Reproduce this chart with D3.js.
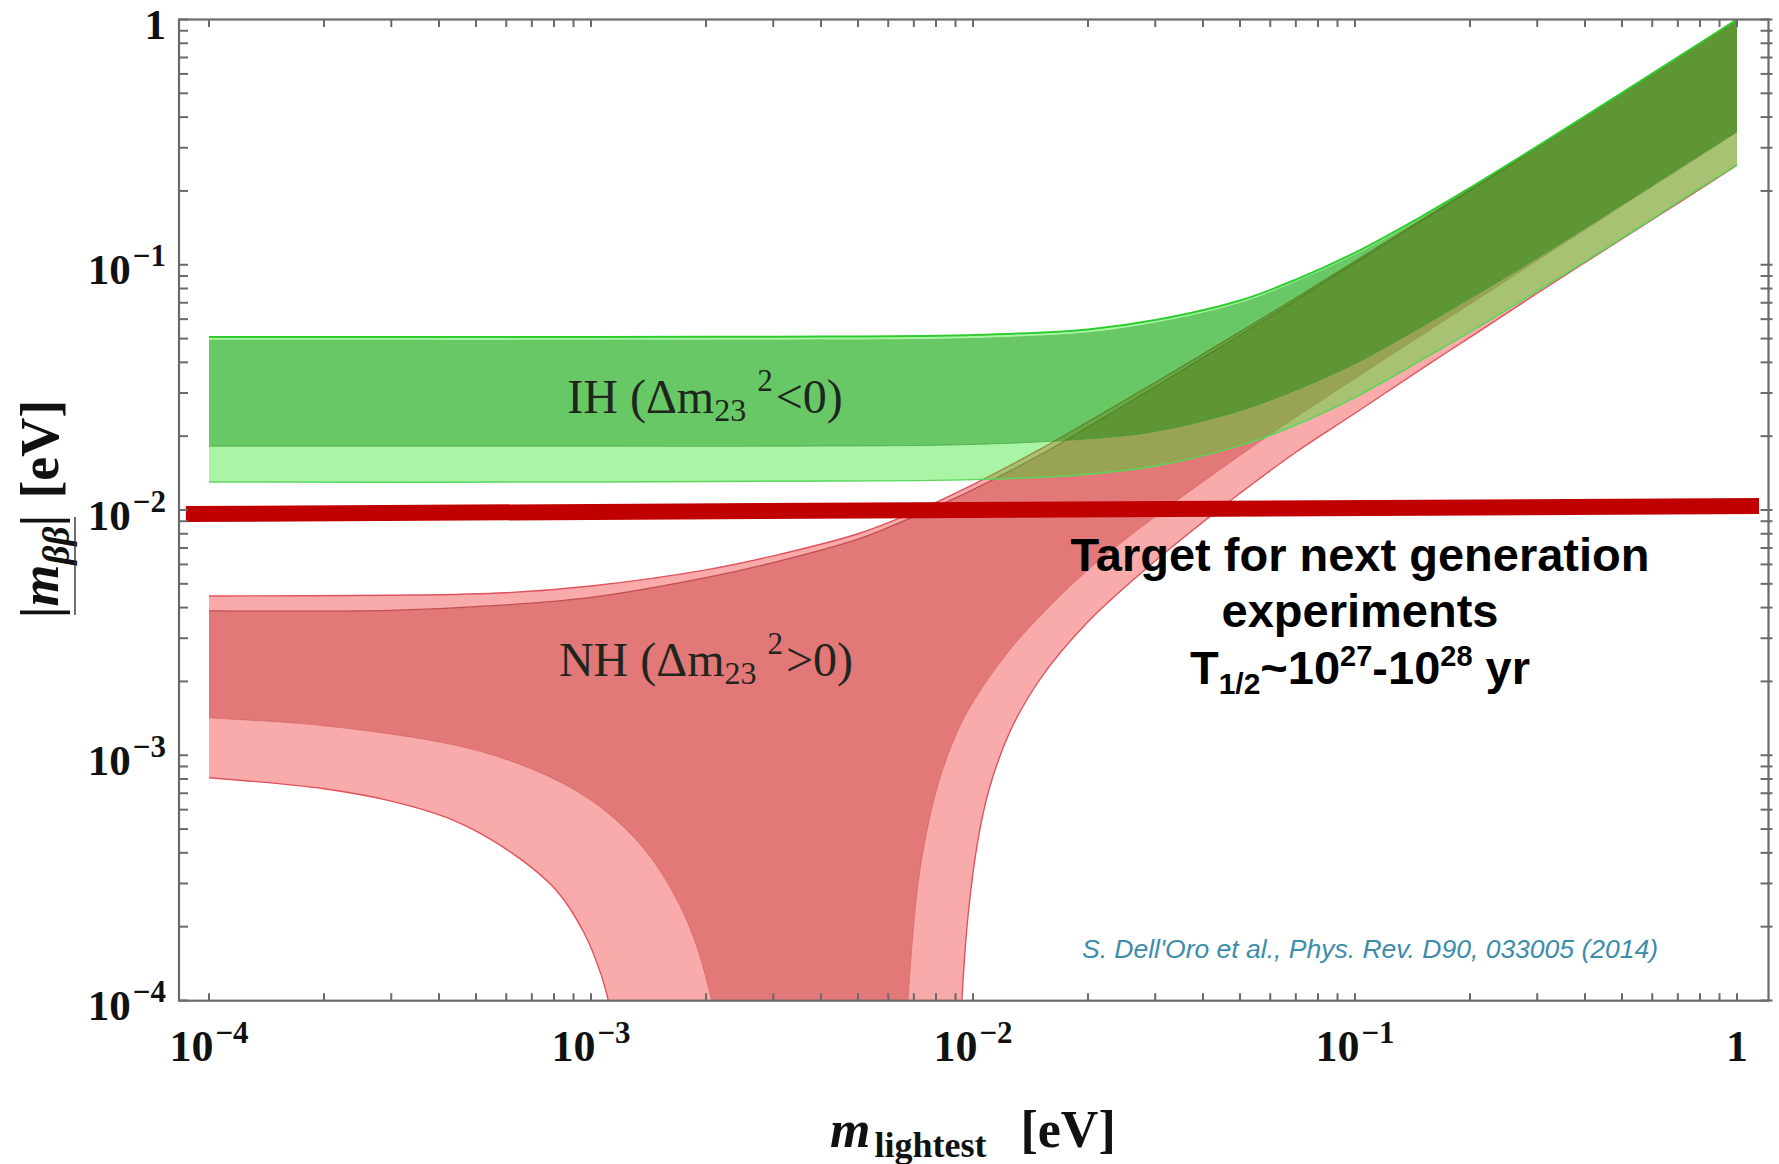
<!DOCTYPE html>
<html><head><meta charset="utf-8">
<script src="https://cdn.jsdelivr.net/npm/d3@7"></script>
<style>
html,body{margin:0;padding:0;background:#fff;}
svg{display:block;}
</style></head><body>
<svg id="chart" width="1779" height="1164"></svg>
<script>
// ================= DATA =================
// Inverted hierarchy (IH) band, x = m_lightest [eV]
const ihX     = [1e-4, 1e-3, 3e-3, 0.01, 0.02, 0.03, 0.05, 0.07, 0.1, 0.15, 0.2, 0.3, 0.5, 0.7, 1];
const ihMax3s = [0.0508,0.0508,0.0509,0.0517,0.0545,0.0595,0.0715,0.0870,0.1120,0.1580,0.2060,0.3040,0.5020,0.7010,1.000];
const ihMaxBF = [0.0494,0.0494,0.0495,0.0503,0.0531,0.0581,0.0700,0.0855,0.1100,0.1560,0.2040,0.3010,0.4980,0.6960,0.995];
const ihMinBF = [0.0182,0.0182,0.0182,0.0185,0.0195,0.0209,0.0254,0.0308,0.0395,0.0560,0.0728,0.1065,0.1755,0.2450,0.349];
const ihMin3s = [0.0130,0.0130,0.0131,0.0133,0.0140,0.0151,0.0183,0.0222,0.0288,0.0410,0.0532,0.0780,0.1285,0.1800,0.256];

// Normal hierarchy (NH) band
const nhX     = [1e-4, 3e-4, 6e-4, 1e-3, 2e-3, 3e-3, 5e-3, 7e-3, 0.01, 0.015, 0.02, 0.03, 0.05, 0.07, 0.1, 0.2, 0.5, 1];
const nhMax3s = [0.00446,0.00449,0.00460,0.00490,0.00570,0.00650,0.00800,0.00980,0.01270,0.01770,0.02290,0.03310,0.05320,0.07320,0.1032,0.2025,0.501,1.0];
const nhMaxBF = [0.00388,0.00390,0.00410,0.00440,0.00530,0.00610,0.00760,0.00940,0.01210,0.01680,0.02180,0.03180,0.05170,0.07160,0.1015,0.2005,0.499,0.995];
const nhMinBFLeftX  = [1e-4, 2e-4, 4.4e-4, 6.5e-4, 8.65e-4, 1.08e-3, 1.3e-3, 1.5e-3, 1.72e-3, 1.86e-3, 1.96e-3, 2.07e-3];
const nhMinBFLeftY  = [1.42e-3,1.32e-3,1.10e-3,9.2e-4,7.52e-4,6.0e-4,4.6e-4,3.47e-4,2.39e-4,1.79e-4,1.39e-4,1.0e-4];
const nhMinBFRightX = [6.76e-3,7.2e-3,8e-3,9e-3,0.01,0.0125,0.015,0.02,0.03,0.05,0.07,0.1,0.15,0.2,0.3,0.5,0.7,1];
const nhMinBFRightY = [1.0e-4,3.1e-4,7.1e-4,1.2e-3,1.65e-3,2.7e-3,3.7e-3,5.7e-3,9.4e-3,0.0167,0.0239,0.0344,0.0518,0.0692,0.104,0.174,0.243,0.348];
const nhMin3sLeftX  = [1e-4, 2e-4, 3e-4, 4.4e-4, 6.2e-4, 8.1e-4, 9.6e-4, 1.06e-3, 1.11e-3];
const nhMin3sLeftY  = [8.1e-4, 7.3e-4, 6.5e-4, 5.4e-4, 4.0e-4, 2.82e-4, 1.88e-4, 1.29e-4, 1.0e-4];
const nhMin3sRightX = [9.35e-3,9.7e-3,0.0103,0.011,0.0125,0.015,0.02,0.03,0.05,0.07,0.1,0.15,0.2,0.3,0.5,0.7,1];
const nhMin3sRightY = [1.0e-4,2.2e-4,4.5e-4,7.2e-4,1.25e-3,2.05e-3,3.5e-3,6.2e-3,0.0117,0.0172,0.0248,0.0378,0.0506,0.0765,0.1275,0.178,0.255];

// Target line for next generation experiments
const targetX = [8.7e-5, 1.142];
const targetY = [0.00963, 0.01038];

// Tick labels
const majorTicks = [1e-4, 1e-3, 1e-2, 1e-1, 1];
const majorBase  = ["10", "10", "10", "10", "1"];
const majorExp   = ["\u22124", "\u22123", "\u22122", "\u22121", ""];

// ================= DRAWING =================
const svg = d3.select('#chart');
const x = d3.scaleLog().domain([1e-4, 1]).range([209, 1737]);
const y = d3.scaleLog().domain([1e-4, 1]).range([1000.5, 19.5]);
const frame = {l: 179, r: 1768.5, t: 19.5, b: 1000.7};

svg.append('rect').attr('width', 1779).attr('height', 1164).attr('fill', '#fff');
svg.append('defs').append('clipPath').attr('id', 'plotClip').append('rect')
  .attr('x', frame.l).attr('y', frame.t).attr('width', frame.r - frame.l).attr('height', frame.b - frame.t);

const lineGen = d3.line().x(d => x(d[0])).y(d => y(d[1])).curve(d3.curveCatmullRom.alpha(0.5));
const pts = (xs, ys) => xs.map((v, i) => [v, ys[i]]);
function polygon(sections) {
  return sections.map((s, i) => { const p = lineGen(s); return i === 0 ? p : 'L' + p.slice(1); }).join('') + 'Z';
}

const plot = svg.append('g').attr('clip-path', 'url(#plotClip)');

// NH 3 sigma (light pink)
plot.append('path')
  .attr('d', polygon([pts(nhX, nhMax3s), pts(nhMin3sRightX, nhMin3sRightY).reverse(), pts(nhMin3sLeftX, nhMin3sLeftY).reverse()]))
  .attr('fill', '#f9aaaa');
// NH best fit (dark red)
plot.append('path')
  .attr('d', polygon([pts(nhX, nhMaxBF), pts(nhMinBFRightX, nhMinBFRightY).reverse(), pts(nhMinBFLeftX, nhMinBFLeftY).reverse()]))
  .attr('fill', '#e27878');
// NH edges
[[nhX, nhMax3s], [nhMin3sLeftX, nhMin3sLeftY], [nhMin3sRightX, nhMin3sRightY]].forEach(([a, b]) => {
  plot.append('path').attr('d', lineGen(pts(a, b))).attr('fill', 'none').attr('stroke', '#e0525c').attr('stroke-width', 1.4);
});
plot.append('path').attr('d', lineGen(pts(nhX, nhMaxBF))).attr('fill', 'none').attr('stroke', '#c24e52').attr('stroke-width', 1.3);
[[nhMinBFLeftX, nhMinBFLeftY], [nhMinBFRightX, nhMinBFRightY]].forEach(([a, b]) => {
  plot.append('path').attr('d', lineGen(pts(a, b))).attr('fill', 'none').attr('stroke', '#d46464').attr('stroke-width', 1).attr('opacity', 0.7);
});

// IH 3 sigma (light green, translucent)
plot.append('path')
  .attr('d', polygon([pts(ihX, ihMax3s), pts(ihX, ihMin3s).reverse()]))
  .attr('fill', 'rgb(42,230,30)').attr('fill-opacity', 0.4);
// IH best fit (dark green, translucent)
plot.append('path')
  .attr('d', polygon([pts(ihX, ihMaxBF), pts(ihX, ihMinBF).reverse()]))
  .attr('fill', 'rgb(0,127,0)').attr('fill-opacity', 0.383);
plot.append('path').attr('d', lineGen(pts(ihX, ihMax3s))).attr('fill', 'none').attr('stroke', '#2fcc2f').attr('stroke-width', 2);
plot.append('path').attr('d', lineGen(pts(ihX, ihMin3s))).attr('fill', 'none').attr('stroke', '#5cd65c').attr('stroke-width', 1.5);
plot.append('path').attr('d', lineGen(pts(ihX, ihMinBF))).attr('fill', 'none').attr('stroke', '#3a9a3a').attr('stroke-width', 1).attr('opacity', 0.6);

// Target line
svg.append('path')
  .attr('d', d3.line().x(d => x(d[0])).y(d => y(d[1]))(pts(targetX, targetY)))
  .attr('stroke', '#c00000').attr('stroke-width', 16).attr('fill', 'none');

// Frame and ticks
const axisCol = '#6a6a6a';
svg.append('rect').attr('x', frame.l).attr('y', frame.t).attr('width', frame.r - frame.l).attr('height', frame.b - frame.t)
  .attr('fill', 'none').attr('stroke', axisCol).attr('stroke-width', 2.2);
const tg = svg.append('g').attr('stroke', axisCol).attr('stroke-width', 2);
x.ticks().forEach(v => {
  const px = x(v);
  tg.append('line').attr('x1', px).attr('x2', px).attr('y1', frame.b).attr('y2', frame.b - 7.5);
  tg.append('line').attr('x1', px).attr('x2', px).attr('y1', frame.t).attr('y2', frame.t + 7.5);
});
y.ticks().forEach(v => {
  const py = y(v);
  tg.append('line').attr('x1', frame.l).attr('x2', frame.l + 9).attr('y1', py).attr('y2', py);
  tg.append('line').attr('x1', frame.r - 8).attr('x2', frame.r + 4).attr('y1', py).attr('y2', py);
});

// Tick labels
const serif = '"Liberation Serif","Times New Roman",Times,serif';
const sans = '"Liberation Sans",Arial,Helvetica,sans-serif';
majorTicks.forEach((v, i) => {
  const t = svg.append('text').attr('x', x(v)).attr('y', 1061).attr('text-anchor', 'middle')
    .attr('font-family', serif).attr('font-weight', 'bold').attr('font-size', 44).attr('fill', '#111');
  t.append('tspan').text(majorBase[i]);
  if (majorExp[i]) t.append('tspan').attr('font-size', 31).attr('dy', -18).attr('dx', 2).text(majorExp[i]);
  const u = svg.append('text').attr('x', 166).attr('y', y(v) + 19.5).attr('text-anchor', 'end')
    .attr('font-family', serif).attr('font-weight', 'bold').attr('font-size', 43).attr('fill', '#111');
  u.append('tspan').text(majorBase[i]);
  if (majorExp[i]) u.append('tspan').attr('font-size', 31).attr('dy', -18).attr('dx', 2).text(majorExp[i]);
});

// Axis titles
const xl = svg.append('text').attr('x', 830).attr('y', 1147).attr('font-family', serif).attr('font-weight', 'bold')
  .attr('font-size', 52).attr('fill', '#111');
xl.append('tspan').attr('font-style', 'italic').text('m');
xl.append('tspan').attr('font-size', 36).attr('dy', 10).attr('dx', 4).text('lightest');
xl.append('tspan').attr('dy', -10).attr('dx', 34).text('[eV]');

const yl = svg.append('text').attr('transform', 'translate(58,509) rotate(-90)').attr('text-anchor', 'middle')
  .attr('font-family', serif).attr('font-weight', 'bold').attr('font-size', 54).attr('fill', '#111');
yl.append('tspan').text('|');
yl.append('tspan').attr('font-style', 'italic').text('m');
yl.append('tspan').attr('font-style', 'italic').attr('font-size', 37).attr('dy', 11).text('\u03B2\u03B2');
yl.append('tspan').attr('dy', -11).text('|');
yl.append('tspan').attr('dx', 16).text('[eV]');
svg.append('line').attr('x1', 75).attr('x2', 75).attr('y1', 517).attr('y2', 615).attr('stroke', '#333').attr('stroke-width', 1.4);

// Band labels
function bandLabel(cx, by, head, rel) {
  const t = svg.append('text').attr('x', cx).attr('y', by).attr('text-anchor', 'middle')
    .attr('font-family', serif).attr('font-size', 48).attr('fill', '#1e261e');
  t.append('tspan').text(head + ' (\u0394m');
  t.append('tspan').attr('font-size', 32).attr('dy', 8).text('23');
  t.append('tspan').attr('font-size', 31).attr('dy', -30).attr('dx', 11).text('2');
  t.append('tspan').attr('dy', 22).attr('dx', 3).text(rel + '0)');
}
bandLabel(705, 413, 'IH', '<');
bandLabel(706, 676, 'NH', '>');

// Target annotation
const tx = 1360;
svg.append('text').attr('x', tx).attr('y', 571).attr('text-anchor', 'middle').attr('font-family', sans)
  .attr('font-weight', 'bold').attr('font-size', 47).attr('fill', '#000').text('Target for next generation');
svg.append('text').attr('x', tx).attr('y', 627).attr('text-anchor', 'middle').attr('font-family', sans)
  .attr('font-weight', 'bold').attr('font-size', 47).attr('fill', '#000').text('experiments');
const a3 = svg.append('text').attr('x', tx).attr('y', 684).attr('text-anchor', 'middle').attr('font-family', sans)
  .attr('font-weight', 'bold').attr('font-size', 47).attr('fill', '#000');
a3.append('tspan').text('T');
a3.append('tspan').attr('font-size', 30).attr('dy', 10).text('1/2');
a3.append('tspan').attr('dy', -10).text('~10');
a3.append('tspan').attr('font-size', 29).attr('dy', -18).text('27');
a3.append('tspan').attr('dy', 18).text('-10');
a3.append('tspan').attr('font-size', 29).attr('dy', -18).text('28');
a3.append('tspan').attr('dy', 18).text(' yr');

// Citation
svg.append('text').attr('x', 1370).attr('y', 958).attr('text-anchor', 'middle').attr('font-family', sans)
  .attr('font-style', 'italic').attr('font-size', 26.5).attr('fill', '#3b8dab')
  .text("S. Dell'Oro et al., Phys. Rev. D90, 033005 (2014)");
</script></body></html>
